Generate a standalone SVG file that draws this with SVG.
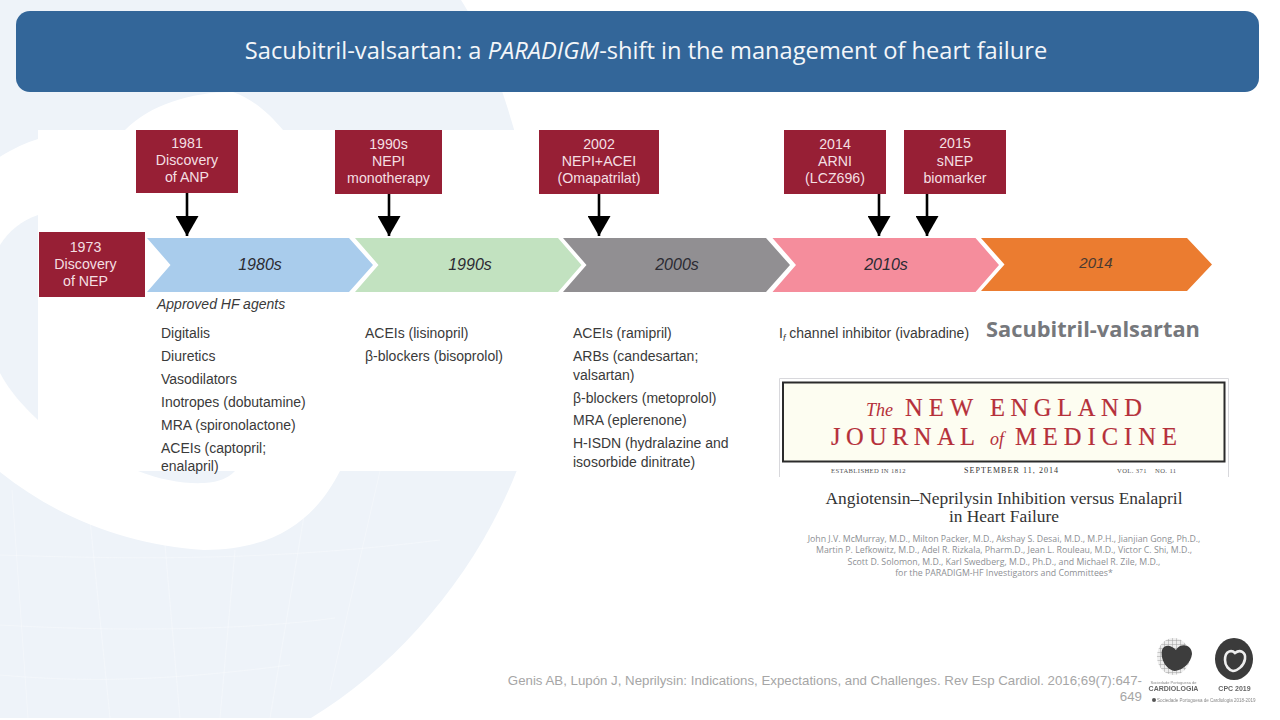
<svg xmlns="http://www.w3.org/2000/svg" width="1280" height="720" viewBox="0 0 1280 720">
<style>
text{font-family:"Liberation Sans",Arial,sans-serif}
.box{fill:#971f35}
.bt{fill:#f4dfe2;font-size:14.2px;text-anchor:middle}
.ch{font-size:16px;font-style:italic;fill:#2b2b33;text-anchor:middle}
.li{font-size:14px;fill:#3a3a3a}
.ln{stroke:#000;stroke-width:2.6;fill:none}
.bg{fill:#eef3f9}
.grid{stroke:#fff;stroke-width:1;opacity:.3;fill:none}
.auth{font-family:"Open Sans","Noto Sans",sans-serif;font-size:8.77px;fill:#8d8f94;text-anchor:middle}
.nejm{font-family:"Liberation Serif",serif;fill:#b5303a;font-size:24.5px;stroke:#b5303a;stroke-width:.2}
.nejmi{font-family:"Liberation Serif",serif;fill:#b5303a;font-size:18px;font-style:italic}
.small{font-family:"Liberation Serif",serif;fill:#555;font-size:6.6px;letter-spacing:.4px}
.tt{font-family:"Liberation Serif",serif;font-size:17.4px;fill:#333;text-anchor:middle}
</style>
<defs>
<marker id="ah" markerUnits="userSpaceOnUse" markerWidth="23" markerHeight="20" refX="11.5" refY="20" orient="0" viewBox="0 0 23 20"><path d="M0 0H23L11.5 20Z" fill="#000"/></marker>
<pattern id="hatch" width="4" height="4" patternUnits="userSpaceOnUse"><rect width="4" height="4" fill="#e6e6e6"/><path d="M0 0H4M0 0V4" stroke="#777" stroke-width="1"/></pattern>
<filter id="soft" x="-10%" y="-10%" width="120%" height="120%"><feGaussianBlur stdDeviation=".6"/></filter>
</defs>
<rect width="1280" height="720" fill="#fff"/>
<g id="background">
<path class="bg" d="M0 0H461C500 60 545 210 545 330C545 480 440 640 311 718H0Z"/>
<path d="M-5 160C10 150 25 143 38 139C70 135 100 132 125 130C150 105 190 92 233 92C255 100 270 115 283 130L340 471C320 510 285 550 204 550C130 545 60 520 0 472Z" fill="#fff"/>
<path class="bg" d="M38 215C22 220 8 232 0 245V373C10 392 25 408 38 420Z"/>
<path class="bg" d="M138 471C160 480 185 484 204 483C220 482 228 478 235 471Z"/>
<path class="grid" d="M0 555C150 560 280 560 440 540M0 625C120 632 250 630 335 618M0 675C80 682 160 682 290 665M12 490L28 718M90 520L110 718M165 545L180 718M235 550L220 718M305 510L270 718M380 471L330 690"/>
<rect x="38" y="130" width="742" height="341" fill="#fff"/>
</g>
<g id="header"><rect x="16" y="11" width="1243" height="81" rx="14" fill="#336699"/>
<text x="646" y="59" text-anchor="middle" style="font-family:'Open Sans','Noto Sans',sans-serif;font-size:23.66px" fill="#f4f6f9">Sacubitril-valsartan: a <tspan font-style="italic">PARADIGM</tspan>-shift in the management of heart failure</text></g>
<g id="node-1980s"><path d="M147 238H349L373 265L349 292H147L170.500 265Z" fill="#a9ccec"/><text class="ch" x="260" y="270">1980s</text></g>
<g id="node-1990s-era"><path d="M355 238H558L581.500 265L558 292H355L378.500 265Z" fill="#c2e2c0"/><text class="ch" x="470" y="270">1990s</text></g>
<g id="node-2000s"><path d="M563 238H766L790 265L766 292H563L586.500 265Z" fill="#918f92"/><text class="ch" x="677" y="270">2000s</text></g>
<g id="node-2010s"><path d="M772.500 238H975.500L999 265L975.500 292H772.500L796 265Z" fill="#f58d9c"/><text class="ch" x="886" y="270">2010s</text></g>
<g id="node-2014"><path d="M981 238H1187L1212 264.500L1187 291H981L1004.500 264.500Z" fill="#eb7c30"/><text class="ch" x="1096" y="268" style="font-size:15px;fill:#4a3a30">2014</text></g>
<g id="connectors">
<line class="ln" x1="187" y1="193" x2="187" y2="236" marker-end="url(#ah)"/>
<line class="ln" x1="389" y1="194" x2="389" y2="236" marker-end="url(#ah)"/>
<line class="ln" x1="599" y1="194" x2="599" y2="236" marker-end="url(#ah)"/>
<line class="ln" x1="879" y1="194" x2="879" y2="236" marker-end="url(#ah)"/>
<line class="ln" x1="927" y1="194" x2="927" y2="236" marker-end="url(#ah)"/>
</g>
<g id="node-1973"><rect class="box" x="39" y="232" width="106" height="65"/><text class="bt"><tspan x="85.500" y="252">1973</tspan><tspan x="85.500" y="269">Discovery</tspan><tspan x="85.500" y="286">of NEP</tspan></text></g>
<g id="node-1981"><rect class="box" x="136" y="130" width="102" height="63"/><text class="bt"><tspan x="187" y="148">1981</tspan><tspan x="187" y="165">Discovery</tspan><tspan x="187" y="182">of ANP</tspan></text></g>
<g id="node-1990s"><rect class="box" x="335" y="130" width="107" height="64"/><text class="bt"><tspan x="388.500" y="149">1990s</tspan><tspan x="388.500" y="166">NEPI</tspan><tspan x="388.500" y="183">monotherapy</tspan></text></g>
<g id="node-2002"><rect class="box" x="539" y="130" width="120" height="64"/><text class="bt"><tspan x="599" y="149">2002</tspan><tspan x="599" y="166">NEPI+ACEI</tspan><tspan x="599" y="183">(Omapatrilat)</tspan></text></g>
<g id="node-2014-arni"><rect class="box" x="784" y="130" width="102" height="64"/><text class="bt"><tspan x="835" y="149">2014</tspan><tspan x="835" y="166">ARNI</tspan><tspan x="835" y="183">(LCZ696)</tspan></text></g>
<g id="node-2015"><rect class="box" x="904" y="130" width="102" height="64"/><text class="bt"><tspan x="955" y="148">2015</tspan><tspan x="955" y="166">sNEP</tspan><tspan x="955" y="183">biomarker</tspan></text></g>
<g id="lists">
<text x="157" y="309" class="li" style="font-style:italic">Approved HF agents</text>
<text class="li" x="161" y="338">Digitalis</text><text class="li" x="161" y="361">Diuretics</text><text class="li" x="161" y="384">Vasodilators</text><text class="li" x="161" y="407">Inotropes (dobutamine)</text><text class="li" x="161" y="430">MRA (spironolactone)</text><text class="li" x="161" y="453">ACEIs (captopril;</text><text class="li" x="161" y="471">enalapril)</text>
<text class="li" x="365" y="338">ACEIs (lisinopril)</text><text class="li" x="365" y="361">β-blockers (bisoprolol)</text>
<text class="li" x="573" y="338">ACEIs (ramipril)</text><text class="li" x="573" y="361">ARBs (candesartan;</text><text class="li" x="573" y="380">valsartan)</text><text class="li" x="573" y="403">β-blockers (metoprolol)</text><text class="li" x="573" y="425">MRA (eplerenone)</text><text class="li" x="573" y="448">H-ISDN (hydralazine and</text><text class="li" x="573" y="467">isosorbide dinitrate)</text>
<text class="li" x="779" y="338">I<tspan font-size="9px" dy="3" font-style="italic">f</tspan><tspan dy="-3"> channel inhibitor (ivabradine)</tspan></text>
<text x="986" y="337" style="font-family:'Open Sans','Noto Sans',sans-serif;font-size:21.8px;font-weight:700" fill="#76787c">Sacubitril-valsartan</text>
</g>
<g id="nejm">
<path d="M779.500 477V378.500H1228.500V477" fill="none" stroke="#d8d8dc"/>
<rect x="783" y="382.500" width="441.500" height="79" fill="#fdfdf1" stroke="#2b2b2b" stroke-width="2"/>
<text class="nejmi" x="866" y="416">The</text>
<text class="nejm" x="905" y="416" textLength="68">NEW</text>
<text class="nejm" x="990" y="416" textLength="152">ENGLAND</text>
<text class="nejm" x="831" y="445" textLength="144">JOURNAL</text>
<text class="nejmi" x="990" y="445">of</text>
<text class="nejm" x="1015" y="445" textLength="162">MEDICINE</text>
<text class="small" x="831" y="473">ESTABLISHED IN 1812</text>
<text class="small" x="964" y="473" style="font-size:8px;fill:#333;letter-spacing:1.070px">SEPTEMBER 11, 2014</text>
<text class="small" x="1117" y="473">VOL. 371</text>
<text class="small" x="1155" y="473">NO. 11</text>
<text class="tt" x="1004" y="504">Angiotensin–Neprilysin Inhibition versus Enalapril</text>
<text class="tt" x="1004" y="522">in Heart Failure</text>
<text class="auth" x="1004" y="542">John J.V. McMurray, M.D., Milton Packer, M.D., Akshay S. Desai, M.D., M.P.H., Jianjian Gong, Ph.D.,</text>
<text class="auth" x="1004" y="553">Martin P. Lefkowitz, M.D., Adel R. Rizkala, Pharm.D., Jean L. Rouleau, M.D., Victor C. Shi, M.D.,</text>
<text class="auth" x="1004" y="565">Scott D. Solomon, M.D., Karl Swedberg, M.D., Ph.D., and Michael R. Zile, M.D.,</text>
<text class="auth" x="1004" y="576">for the PARADIGM-HF Investigators and Committees*</text>
</g>
<g id="citation" style="font-size:13.27px" fill="#a6a6a6">
<text x="1142" y="685" text-anchor="end">Genis AB, Lupón J, Neprilysin: Indications, Expectations, and Challenges. Rev Esp Cardiol. 2016;69(7):647-</text>
<text x="1142" y="701" text-anchor="end">649</text>
</g>
<g id="logos" filter="url(#soft)">
<ellipse cx="1173.500" cy="656.500" rx="16.500" ry="18.500" fill="url(#hatch)" opacity=".7"/>
<path d="M1162 650C1165 643 1172 646 1176 650C1181 642 1192 645 1192 654C1191 663 1183 670 1175 671C1167 670 1160 660 1162 650Z" fill="#3c3c3c"/>
<text x="1173.500" y="684" text-anchor="middle" font-size="4" fill="#888">Sociedade Portuguesa de</text>
<text x="1173.500" y="691" text-anchor="middle" font-size="7" font-weight="700" fill="#666">CARDIOLOGIA</text>
<ellipse cx="1234" cy="659" rx="19" ry="21" fill="#3a3a3a"/>
<path d="M1225 660C1225 650 1232 650 1235 653C1240 649 1246 652 1245 659C1244 666 1237 671 1233 671C1229 670 1225 666 1225 660Z" fill="none" stroke="#eee" stroke-width="2.600"/>
<text x="1234.500" y="691" text-anchor="middle" font-size="7" font-weight="700" fill="#666">CPC 2019</text>
<circle cx="1154" cy="700" r="2" fill="#555"/>
<text x="1157" y="702" font-size="4.500" fill="#888">Sociedade Portuguesa de Cardiologia 2018-2019</text>
</g>
</svg>
